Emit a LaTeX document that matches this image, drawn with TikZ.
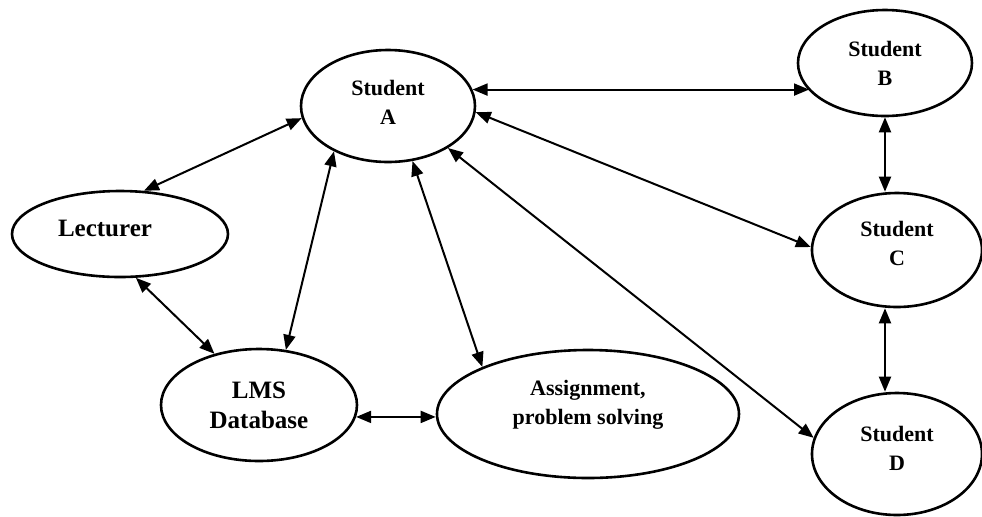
\documentclass[tikz,border=0pt]{standalone}
\usepackage{fontspec}
\setmainfont{Liberation Serif}
\usetikzlibrary{arrows.meta,shapes.geometric}

\begin{document}
\begin{tikzpicture}[x=0.5pt,y=-0.5pt,
  bub/.style={draw,ellipse,line width=1.3pt,inner sep=0pt,align=center,
    font=\bfseries\fontsize{11}{14.5}\selectfont},
  big/.style={font=\bfseries\fontsize{12.5}{15}\selectfont},
  link/.style={line width=1pt,
    {Triangle[length=7.5pt,width=6pt]}-{Triangle[length=7.5pt,width=6pt]}}]
\useasboundingbox (0,0) rectangle (982,516);
% the bubbles
\node[bub,minimum width=87pt,minimum height=56pt,text depth=4pt] (sa) at (388,106) {Student\\A};
\node[bub,minimum width=87pt,minimum height=53pt] (sb) at (885,63) {Student\\B};
\node[bub,minimum width=85pt,minimum height=57pt,text depth=6.5pt] (sc) at (897,250) {Student\\C};
\node[bub,minimum width=85pt,minimum height=61pt,text depth=6pt] (sd) at (897,454) {Student\\D};
\node[bub,big,minimum width=108pt,minimum height=43pt,text depth=6pt] (lec) at (120,234) {Lecturer\hspace*{15pt}};
\node[bub,big,minimum width=98pt,minimum height=56pt] (lms) at (259,405) {LMS\\Database};
\node[bub,minimum width=151pt,minimum height=64pt,text depth=11.5pt] (asg) at (588,414) {Assignment,\\problem solving};
% the links
\draw[link] (sa.11) -- (sa.11 -| sb.200);
\draw[link] (sa.188) -- (lec.61);
\draw[link] (sa.220) -- (lms.64);
\draw[link] (sa.294) -- (asg.156);
\draw[link] (sa.-4) -- (sc.178);
\draw[link] (sa.-35) -- (sd.169);
\draw[link] (sb.south) -- (sb.south |- sc.north);
\draw[link] (sb.south |- sc.south) -- (sb.south |- sd.north);
\draw[link] (lec.290) -- (lms.131);
\draw[link] (lms.-7) -- (lms.-7 -| asg.west);
\end{tikzpicture}
\end{document}
